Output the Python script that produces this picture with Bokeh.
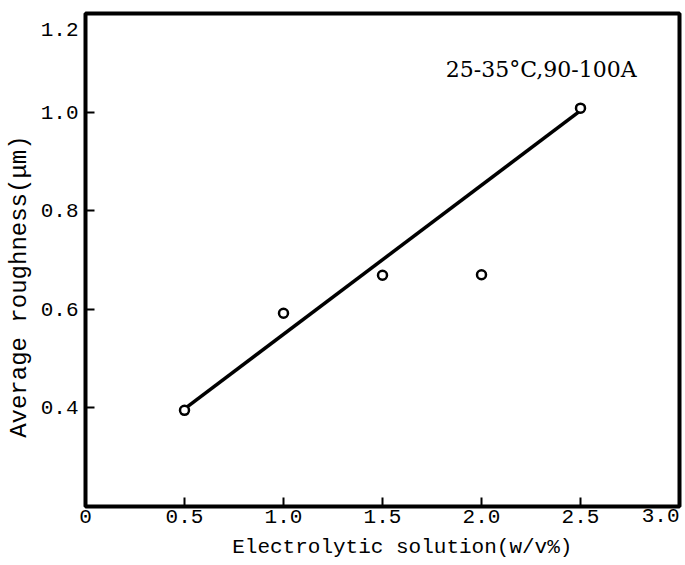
import math
from bokeh.plotting import figure
from bokeh.models import Range1d, FixedTicker, Label
from bokeh.embed import file_html
from bokeh.resources import INLINE

# Data
conc = [0.5, 1.0, 1.5, 2.0, 2.5]                 # Electrolytic solution (w/v%)
roughness = [0.395, 0.592, 0.669, 0.670, 1.008]  # Average roughness (um)
fit_x = [0.5, 2.5]
fit_y = [0.398, 1.003]

x_ticks = [0, 0.5, 1.0, 1.5, 2.0, 2.5]
x_tick_labels = {0: "0", 0.5: "0.5", 1.0: "1.0", 1.5: "1.5", 2.0: "2.0", 2.5: "2.5"}
y_ticks = [0.4, 0.6, 0.8, 1.0]
y_tick_labels = {0.4: "0.4", 0.6: "0.6", 0.8: "0.8", 1.0: "1.0"}
x_end_tick = (3.0, "3.0")
y_end_tick = (1.2, "1.2")
x_title = "Electrolytic solution(w/v%)"
y_title = "Average roughness(μm)"
note_text = "25-35°C,90-100A"

# layout positions (data units of the axes)
x_title_pos = (1.60, 0.2)
y_title_pos = (0.0, 0.646)
note_pos = (1.82, 1.087)

MONO = "Liberation Mono"
SERIF = "DejaVu Serif"

p = figure(width=685, height=565, output_backend="svg", toolbar_location=None,
           x_range=Range1d(0, 3.0), y_range=Range1d(0.2, 1.2),
           min_border_left=85, min_border_right=6, min_border_top=12, min_border_bottom=59)
p.background_fill_color = "white"
p.border_fill_color = "white"
p.outline_line_color = "black"
p.outline_line_width = 4
p.grid.visible = False

p.xaxis.ticker = FixedTicker(ticks=x_ticks)
p.xaxis.major_label_overrides = x_tick_labels
p.yaxis.ticker = FixedTicker(ticks=y_ticks)
p.yaxis.major_label_overrides = y_tick_labels
for ax in (p.xaxis, p.yaxis):
    ax.axis_line_color = None
    ax.major_tick_in = 9
    ax.major_tick_out = 0
    ax.major_tick_line_width = 2
    ax.major_tick_line_color = "black"
    ax.minor_tick_line_color = None
    ax.major_label_text_font = MONO
    ax.major_label_text_font_size = "21px"
    ax.major_label_text_color = "black"
p.xaxis.major_label_standoff = 3
p.yaxis.major_label_standoff = 7

def side_label(text, x, y, **kw):
    return Label(x=x, y=y, text=text, text_font=MONO, text_color="black", **kw)

# Axis titles and end tick labels, placed where the reference has them
p.add_layout(side_label(x_title, *x_title_pos, text_align="center", text_baseline="middle",
                        y_offset=-41, text_font_size="21px"), "below")
p.add_layout(side_label(x_end_tick[1], x_end_tick[0], 0.2, text_align="right",
                        text_baseline="top", y_offset=-2, text_font_size="21px"), "below")
p.add_layout(side_label(y_end_tick[1], 0, y_end_tick[0], text_align="right",
                        text_baseline="middle", x_offset=-7, y_offset=-16,
                        text_font_size="21px"), "above")
p.add_layout(side_label(y_title, *y_title_pos, text_align="center", text_baseline="middle",
                        angle=math.pi / 2, x_offset=-66, text_font_size="24px"), "left")

p.line(fit_x, fit_y, line_color="black", line_width=3.5)
p.scatter(conc, roughness, marker="circle", size=9, fill_color="white",
          line_color="black", line_width=2.5)

p.add_layout(Label(x=note_pos[0], y=note_pos[1], text=note_text, text_align="left",
                   text_baseline="middle", text_font=SERIF, text_font_size="22px",
                   text_color="black"))

open("out.html", "w").write(file_html(p, INLINE))
